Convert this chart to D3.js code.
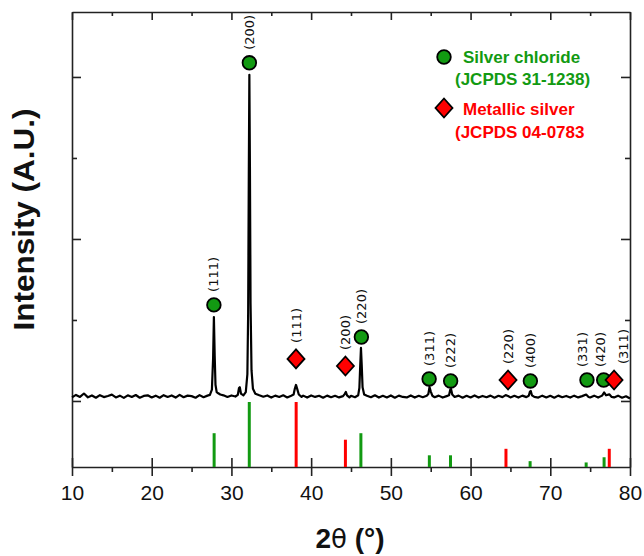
<!DOCTYPE html>
<html lang="en">
<head>
  <meta charset="UTF-8">
  <title>XRD pattern - AgCl / Ag</title>
  <style>
    body { margin: 0; background: #fff; overflow: hidden; }
    .axis path, .axis line { stroke: #222; stroke-width: 1.6px; }
    .axis text { font-family: "Liberation Sans", Arial, sans-serif; font-size: 21px; fill: #111; }
    .hkl { font-family: "DejaVu Sans", sans-serif; font-size: 13px; fill: #111; }
    .legend text { font-family: "Liberation Sans", Arial, sans-serif; font-size: 17px; font-weight: bold; }
  </style>
</head>
<body>
<script src="https://d3js.org/d3.v7.min.js"></script>
<script>
// measured pattern: [2theta, counts]
const trace = [
  [10.0,45],[10.5,75],[11.0,50],[11.5,92],[12.0,45],[12.5,68],[13.0,40],[13.5,72],[14.0,48],[14.5,62],
  [15.0,78],[15.5,44],[16.0,66],[16.5,38],[17.0,70],[17.5,50],[18.0,74],[18.5,40],[19.0,62],[19.5,70],
  [20.0,44],[20.5,66],[21.0,40],[21.5,72],[22.0,50],[22.5,68],[23.0,42],[23.5,76],[24.0,46],[24.5,66],
  [25.0,60],[25.5,40],[26.0,72],[26.5,46],[27.0,66],[27.3,75],[27.55,140],[27.7,520],[27.8,1037],[27.9,560],
  [28.0,200],[28.15,110],[28.35,95],[28.6,80],[29.0,70],[29.5,50],[30.0,68],[30.5,55],[30.8,75],[30.95,160],
  [31.05,170],[31.2,90],[31.5,70],[31.8,110],[32.0,330],[32.1,1100],[32.18,2800],[32.25,4026],[32.32,2900],[32.4,1200],
  [32.52,380],[32.7,150],[33.0,90],[33.5,70],[34.0,52],[34.5,68],[35.0,42],[35.5,66],[36.0,50],[36.5,70],
  [37.0,44],[37.5,66],[37.8,80],[37.95,150],[38.1,198],[38.25,150],[38.45,80],[38.8,50],[39.0,66],[39.5,42],
  [40.0,68],[40.5,50],[41.0,64],[41.5,40],[42.0,66],[42.5,46],[43.0,64],[43.5,44],[44.0,60],[44.2,85],
  [44.35,111],[44.5,70],[44.8,45],[45.0,64],[45.5,46],[45.9,70],[46.05,160],[46.15,420],[46.25,655],[46.35,430],
  [46.45,170],[46.65,80],[47.0,64],[47.5,46],[48.0,70],[48.5,42],[49.0,64],[49.5,44],[50.0,68],[50.5,40],
  [51.0,66],[51.5,50],[52.0,44],[52.5,68],[53.0,42],[53.5,64],[54.0,46],[54.5,64],[54.7,85],[54.85,173],
  [55.0,120],[55.2,65],[55.5,46],[56.0,66],[56.5,42],[57.0,60],[57.3,70],[57.45,140],[57.55,148],[57.7,80],
  [58.0,50],[58.5,66],[59.0,40],[59.5,64],[60.0,44],[60.5,68],[61.0,42],[61.5,62],[62.0,46],[62.5,66],
  [63.0,40],[63.5,64],[64.0,48],[64.4,72],[64.7,62],[65.0,44],[65.5,64],[66.0,42],[66.5,66],[67.0,48],
  [67.3,65],[67.45,115],[67.55,123],[67.7,70],[68.0,50],[68.5,42],[69.0,66],[69.5,44],[70.0,64],[70.5,40],
  [71.0,66],[71.5,46],[72.0,62],[72.5,42],[73.0,66],[73.5,44],[74.0,60],[74.5,80],[74.8,50],[75.0,44],
  [75.5,66],[76.0,42],[76.5,66],[76.75,105],[77.0,70],[77.4,82],[77.7,50],[78.0,44],[78.5,66],[79.0,40],
  [79.5,58],[80.0,30]
];

// reference cards (2theta, relative intensity %)
const agclRef = [[27.83,52],[32.24,100],[46.24,52],[54.83,18],[57.48,18],[67.47,9],[74.5,7],[76.75,15]];
const agRef   = [[38.12,100],[44.3,42],[64.44,28],[77.4,28]];

// indexed peaks: [marker 2theta, marker level (counts), hkl]
const agclPeaks = [[27.8,1186,"(111)"],[32.25,4175,"(200)"],[46.3,790,"(220)"],[54.8,272,"(311)"],
                   [57.5,247,"(222)"],[67.5,247,"(400)"],[74.6,259,"(331)"],[76.7,259,"(420)"]];
const agPeaks   = [[38.1,519,"(111)"],[44.3,432,"(200)"],[64.7,259,"(220)"],[78.0,259,"(311)"]];
const labelNudge = {"74.6": -5, "76.7": -3, "78": 9};

const xTicks = [10,20,30,40,50,60,70,80];
const yTicks = [0,1000,2000,3000,4000];

const green = "#129a12", red = "#ff0000";

const width = 644, height = 556;
const margin = {top: 12, right: 14, bottom: 89, left: 72};

const svg = d3.select("body").append("svg")
  .attr("width", width)
  .attr("height", height);

const x = d3.scaleLinear().domain([10, 80]).range([margin.left, width - margin.right]);
const y = d3.scaleLinear().domain([-815, 4802]).range([height - margin.bottom, margin.top]);
const yRef = d3.scaleLinear().domain([0, 100]).range([height - margin.bottom, height - margin.bottom - 65]);

const x0 = margin.left, x1 = width - margin.right;
const y0 = height - margin.bottom, y1 = margin.top;

// axes
const minorX = d3.range(15, 80, 10);

svg.append("g").attr("class", "axis")
  .attr("transform", `translate(0,${y0})`)
  .call(d3.axisBottom(x).tickValues(xTicks).tickSize(9).tickPadding(9).tickSizeOuter(0))
  .call(g => g.selectAll(".tick line").attr("y1", -9))
  .call(g => g.selectAll(".tick text").attr("dy", "0.71em"));

svg.append("g").attr("class", "axis")
  .attr("transform", `translate(0,${y0})`)
  .call(d3.axisBottom(x).tickValues(minorX).tickSize(5).tickFormat("").tickSizeOuter(0))
  .call(g => g.select(".domain").remove());

svg.append("g").attr("class", "axis")
  .attr("transform", `translate(0,${y1})`)
  .call(d3.axisBottom(x).tickValues(xTicks).tickSize(8).tickFormat("").tickSizeOuter(0));

svg.append("g").attr("class", "axis")
  .attr("transform", `translate(0,${y1})`)
  .call(d3.axisBottom(x).tickValues(minorX).tickSize(4).tickFormat("").tickSizeOuter(0))
  .call(g => g.select(".domain").remove());

const majorY = yTicks.filter(d => d % 2000 === 0);
const minorY = yTicks.filter(d => d % 2000 !== 0);

[[x0, d3.axisRight], [x1, d3.axisLeft]].forEach(([pos, ax]) => {
  svg.append("g").attr("class", "axis")
    .attr("transform", `translate(${pos},0)`)
    .call(ax(y).tickValues(majorY).tickSize(9).tickFormat("").tickSizeOuter(0));
  svg.append("g").attr("class", "axis")
    .attr("transform", `translate(${pos},0)`)
    .call(ax(y).tickValues(minorY).tickSize(5).tickFormat("").tickSizeOuter(0))
    .call(g => g.select(".domain").remove());
});

// axis titles
svg.append("text")
  .attr("transform", `translate(34,${(y0 + y1) / 2 - 20}) rotate(-90)`)
  .attr("text-anchor", "middle")
  .attr("font-family", "Liberation Sans, Arial, sans-serif")
  .attr("font-weight", "bold")
  .attr("font-size", 29)
  .attr("textLength", 222)
  .attr("lengthAdjust", "spacingAndGlyphs")
  .attr("fill", "#111")
  .text("Intensity (A.U.)");

const xt = svg.append("text")
  .attr("x", (x0 + x1) / 2 - 1)
  .attr("y", 548)
  .attr("text-anchor", "middle")
  .attr("font-family", "Liberation Sans, Arial, sans-serif")
  .attr("font-size", 28)
  .attr("fill", "#111");
xt.append("tspan").attr("font-weight", "bold").text("2");
xt.append("tspan").attr("font-family", "DejaVu Sans, sans-serif").attr("font-size", 26).text("θ");
xt.append("tspan").attr("font-weight", "bold").text(" (°)");

// reference sticks
svg.append("g").selectAll("line.ag")
  .data(agRef)
  .join("line")
    .attr("x1", d => x(d[0])).attr("x2", d => x(d[0]))
    .attr("y1", yRef(0)).attr("y2", d => yRef(d[1]))
    .attr("stroke", red).attr("stroke-width", 3);

svg.append("g").selectAll("line.agcl")
  .data(agclRef)
  .join("line")
    .attr("x1", d => x(d[0])).attr("x2", d => x(d[0]))
    .attr("y1", yRef(0)).attr("y2", d => yRef(d[1]))
    .attr("stroke", green).attr("stroke-width", 3);

// pattern
const line = d3.line().x(d => x(d[0])).y(d => y(d[1]));
svg.append("path")
  .datum(trace)
  .attr("fill", "none")
  .attr("stroke", "#000")
  .attr("stroke-width", 2.2)
  .attr("stroke-linejoin", "round")
  .attr("d", line);

// markers
const diamond = "M0,-9.5L8.5,0L0,9.5L-8.5,0Z";

svg.append("g").selectAll("circle")
  .data(agclPeaks)
  .join("circle")
    .attr("cx", d => x(d[0])).attr("cy", d => y(d[1]))
    .attr("r", 6.8)
    .attr("fill", green).attr("stroke", "#000").attr("stroke-width", 1.8);

svg.append("g").selectAll("path")
  .data(agPeaks)
  .join("path")
    .attr("transform", d => `translate(${x(d[0])},${y(d[1])})`)
    .attr("d", diamond)
    .attr("fill", red).attr("stroke", "#000").attr("stroke-width", 1.8);

// hkl labels
const hkl = agclPeaks.map(d => [...d, 13]).concat(agPeaks.map(d => [...d, 16]));
svg.append("g").selectAll("text")
  .data(hkl)
  .join("text")
    .attr("class", "hkl")
    .attr("transform", d => `translate(${x(d[0]) + (labelNudge[d[0]] || 0)},${y(d[1]) - d[3]}) rotate(-90)`)
    .attr("dy", "0.35em")
    .text(d => d[2]);

// legend
const legend = svg.append("g").attr("class", "legend");
legend.append("circle").attr("cx", 444).attr("cy", 57).attr("r", 6.8)
  .attr("fill", green).attr("stroke", "#000").attr("stroke-width", 1.8);
legend.append("text").attr("x", 463).attr("y", 63).attr("fill", green).text("Silver chloride");
legend.append("text").attr("x", 455).attr("y", 85).attr("fill", green).text("(JCPDS 31-1238)");
legend.append("path").attr("transform", "translate(444,108)").attr("d", diamond)
  .attr("fill", red).attr("stroke", "#000").attr("stroke-width", 1.8);
legend.append("text").attr("x", 463).attr("y", 115).attr("fill", red).text("Metallic silver");
legend.append("text").attr("x", 455).attr("y", 138).attr("fill", red).text("(JCPDS 04-0783");
</script>
</body>
</html>
